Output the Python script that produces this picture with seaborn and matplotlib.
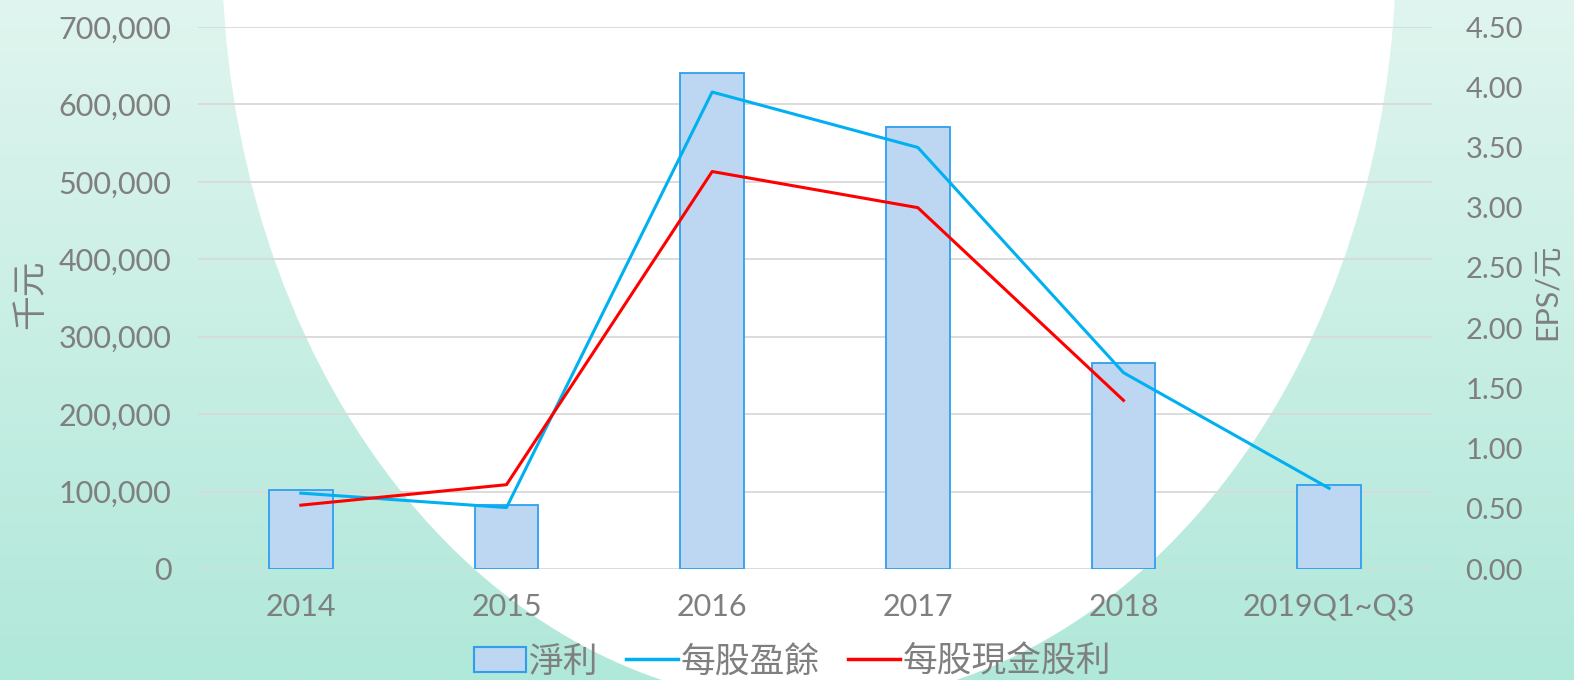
import matplotlib
matplotlib.use("Agg")
import matplotlib.pyplot as plt
import numpy as np
import seaborn as sns
from matplotlib.patches import Ellipse, Patch
from matplotlib.lines import Line2D
from matplotlib.ticker import FuncFormatter

# data
years = ["2014", "2015", "2016", "2017", "2018", "2019Q1~Q3"]
net_income = [102000, 83000, 640000, 571000, 266000, 109000]   # 千元
eps = [0.63, 0.51, 3.96, 3.50, 1.63, 0.67]                      # 元
cash_div = [0.53, 0.70, 3.30, 3.00, 1.40, np.nan]               # 元

text_colour = "#7f7f7f"
bar_fill = "#bdd7f3"
bar_edge = "#2e9fef"
eps_colour = "#00b0f0"
div_colour = "#ff0000"

plt.rcParams["font.family"] = ["Lato", "Noto Sans CJK TC"]

W, H = 1574, 680
fig = plt.figure(figsize=(W / 100, H / 100), dpi=100)

# background: mint gradient with large white ellipse
bg = fig.add_axes([0, 0, 1, 1])
grad = np.linspace(0, 1, 256)[:, None]
top = np.array([224, 245, 239]) / 255
bot = np.array([176, 232, 217]) / 255
img = top[None, None, :] * (1 - grad[..., None]) + bot[None, None, :] * grad[..., None]
img = np.repeat(img, 2, axis=1)
bg.imshow(img, extent=[0, W, H, 0], aspect="auto")
bg.add_patch(Ellipse((809, -54), 1173, 1515, color="white"))
bg.set_xlim(0, W)
bg.set_ylim(H, 0)
bg.axis("off")

# main axes
ax = fig.add_axes([198 / W, 1 - 569 / H, (1432 - 198) / W, (569 - 27) / H])
ax.patch.set_alpha(0)

sns.barplot(x=years, y=net_income, ax=ax, color=bar_fill, saturation=1,
            width=0.31, edgecolor=bar_edge, linewidth=1.3, zorder=2)
ax.set_xlim(-0.5, 5.5)
ax.set_ylim(0, 700000)
ax.set_yticks(range(0, 700001, 100000))
ax.yaxis.set_major_formatter(FuncFormatter(lambda v, p: f"{int(v):,}"))
ax.yaxis.grid(True, color="#d9d9d9", linewidth=1.3)
ax.xaxis.grid(False)
ax.set_axisbelow(True)
ax.set_xlabel("")
ax.set_ylabel("")
for s in ax.spines.values():
    s.set_visible(False)
ax.tick_params(axis="both", length=0, colors=text_colour, labelsize=22)
ax.tick_params(axis="y", pad=19)
ax.tick_params(axis="x", pad=17)

ax2 = ax.twinx()
pos = np.arange(len(years))
sns.lineplot(x=pos, y=eps, ax=ax2, color=eps_colour, linewidth=2.2)
sns.lineplot(x=pos, y=cash_div, ax=ax2, color=div_colour, linewidth=2.2)
ax2.set_ylim(0, 4.5)
ax2.set_yticks(np.arange(0, 4.51, 0.5))
ax2.yaxis.set_major_formatter(FuncFormatter(lambda v, p: f"{v:.2f}"))
ax2.set_ylabel("")
ax2.grid(False)
for s in ax2.spines.values():
    s.set_visible(False)
ax2.tick_params(axis="y", length=0, colors=text_colour, labelsize=21, pad=24)
ax2.set_xlim(-0.5, 5.5)

# axis titles
fig.text(30 / W, 1 - 294 / H, "千元", rotation=90, color=text_colour,
         fontsize=25, ha="center", va="center")
fig.text(1547 / W, 1 - 292 / H, "EPS/元", rotation=90, color=text_colour,
         fontsize=22, ha="center", va="center")

# legend
handles = [Patch(facecolor=bar_fill, edgecolor=bar_edge, linewidth=1.5),
           Line2D([], [], color=eps_colour, linewidth=2.5),
           Line2D([], [], color=div_colour, linewidth=2.5)]
fig.legend(handles, ["淨利", "每股盈餘", "每股現金股利"], loc="center",
           bbox_to_anchor=(0.5035, 1 - 661 / H), ncol=3, frameon=False,
           fontsize=25, labelcolor=text_colour, handlelength=1.5,
           handletextpad=0.08, columnspacing=0.8, borderpad=0)

fig.savefig("out.png", dpi=100)
